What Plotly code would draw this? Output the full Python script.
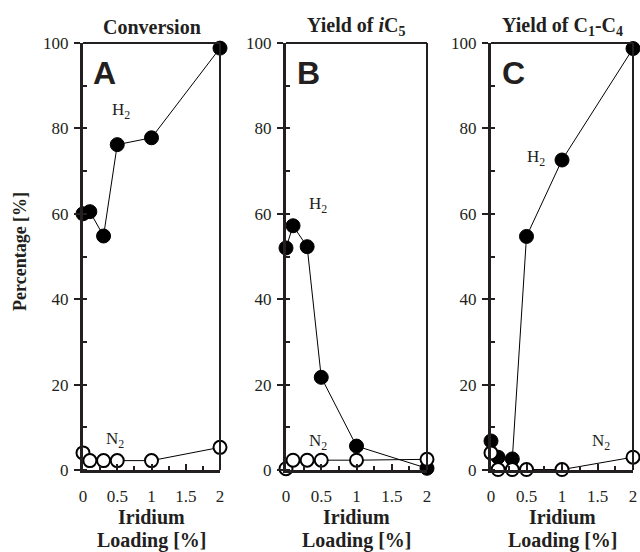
import plotly.graph_objects as go

loading = [0, 0.1, 0.3, 0.5, 1, 2]

conv_h2 = [60, 60.5, 54.8, 76.2, 77.8, 98.8]
conv_n2 = [4.0, 2.2, 2.2, 2.2, 2.2, 5.3]

ic5_h2 = [52.0, 57.2, 52.3, 21.7, 5.6, 0.4]
ic5_n2 = [0.3, 2.3, 2.3, 2.3, 2.3, 2.5]

c14_h2 = [6.8, 3.0, 2.6, 54.7, 72.6, 98.7]
c14_n2 = [4.0, 0.1, 0.1, 0.1, 0.1, 3.0]

panel_titles = ["<b>Conversion</b>", "<b>Yield of <i>i</i>C<sub>5</sub></b>", "<b>Yield of C<sub>1</sub>-C<sub>4</sub></b>"]
panel_letters = ["A", "B", "C"]
x_ticks = [0, 0.5, 1, 1.5, 2]
x_tick_text = ["0", "0.5", "1", "1.5", "2"]
y_ticks = [0, 20, 40, 60, 80, 100]

h2_label_pos = [(0.55, 84), (0.46, 62), (0.64, 73)]
n2_label_pos = [(0.47, 7), (0.45, 6.5), (1.55, 6.5)]

series = [(conv_h2, conv_n2), (ic5_h2, ic5_n2), (c14_h2, c14_n2)]

W, H = 640, 552
x_dom_px = [(83, 220), (286, 427), (491, 633)]
y_top, y_bot = 43, 470
y_domain = [(H - y_bot) / H, (H - y_top) / H]

serif = "'Liberation Serif', Tinos, 'Times New Roman', Times, serif"
ink = "#231f20"
fig = go.Figure()

for i, (h2, n2) in enumerate(series):
    xa = "x" if i == 0 else f"x{i+1}"
    ya = "y" if i == 0 else f"y{i+1}"
    fig.add_trace(go.Scatter(
        x=loading, y=h2, xaxis=xa, yaxis=ya, mode="lines+markers",
        line=dict(color="black", width=1),
        marker=dict(size=14, color="black", line=dict(color="black", width=1)),
        cliponaxis=False, showlegend=False))
    fig.add_trace(go.Scatter(
        x=loading, y=n2, xaxis=xa, yaxis=ya, mode="lines+markers",
        line=dict(color="black", width=1),
        marker=dict(size=13, color="white", line=dict(color="black", width=2)),
        cliponaxis=False, showlegend=False))

layout = dict(width=W, height=H, margin=dict(l=0, r=0, t=0, b=0, autoexpand=False),
              template="none",
              paper_bgcolor="white", plot_bgcolor="white",
              font=dict(family=serif, size=17, color=ink))

annotations = []
shapes = []
for i in range(3):
    xk = "xaxis" if i == 0 else f"xaxis{i+1}"
    yk = "yaxis" if i == 0 else f"yaxis{i+1}"
    xa = "x" if i == 0 else f"x{i+1}"
    ya = "y" if i == 0 else f"y{i+1}"
    x0, x1 = x_dom_px[i]
    layout[xk] = dict(
        domain=[x0 / W, x1 / W], anchor=ya, range=[0, 2], automargin=False,
        tickmode="array", tickvals=x_ticks, ticktext=x_tick_text,
        ticks="inside", ticklen=6, tickwidth=2, tickcolor=ink,
        ticklabelstandoff=9,
        showline=True, linewidth=3, linecolor=ink,
        showgrid=False, zeroline=False,
        tickfont=dict(family=serif, size=17, color=ink),
        minor=dict(tickmode="linear", dtick=0.25, ticks="inside", ticklen=4, tickwidth=2, tickcolor=ink),
    )
    layout[yk] = dict(
        domain=y_domain, anchor=xa, range=[0, 100], automargin=False,
        tickmode="array", tickvals=y_ticks,
        ticks="outside", ticklen=6, tickwidth=2, tickcolor=ink,
        ticklabelstandoff=2,
        showline=True, linewidth=3, linecolor=ink,
        showgrid=False, zeroline=False,
        tickfont=dict(family=serif, size=17, color=ink),
        minor=dict(tickmode="linear", dtick=10, ticks="inside", ticklen=4, tickwidth=2, tickcolor=ink),
    )
    # top and right frame lines
    shapes.append(dict(type="line", xref=f"{xa} domain", yref=f"{ya} domain", x0=0, x1=1, y0=1, y1=1,
                       line=dict(color=ink, width=2)))
    shapes.append(dict(type="line", xref=f"{xa} domain", yref=f"{ya} domain", x0=1, x1=1, y0=0, y1=1,
                       line=dict(color=ink, width=2)))
    annotations.append(dict(text=panel_titles[i], xref=f"{xa} domain", yref="paper",
                            x=0.5, y=(H - 27) / H, showarrow=False,
                            font=dict(family=serif, size=20, color=ink), yanchor="middle"))
    annotations.append(dict(text="<b>Iridium</b>", xref=f"{xa} domain", yref="paper",
                            x=0.5, y=(H - 517) / H, showarrow=False, yanchor="middle",
                            font=dict(family=serif, size=20, color=ink)))
    annotations.append(dict(text="<b>Loading [%]</b>", xref=f"{xa} domain", yref="paper",
                            x=0.5, y=(H - 540) / H, showarrow=False, yanchor="middle",
                            font=dict(family=serif, size=20, color=ink)))
    annotations.append(dict(text=f"<b>{panel_letters[i]}</b>", xref=xa, yref=ya,
                            x=0.32, y=93, showarrow=False,
                            font=dict(family="'Liberation Sans', Arimo, Arial, sans-serif", size=32, color=ink)))
    hx, hy = h2_label_pos[i]
    annotations.append(dict(text="H<sub>2</sub>", xref=xa, yref=ya, x=hx, y=hy, showarrow=False,
                            font=dict(family=serif, size=17, color=ink)))
    nx, ny = n2_label_pos[i]
    annotations.append(dict(text="N<sub>2</sub>", xref=xa, yref=ya, x=nx, y=ny, showarrow=False,
                            font=dict(family=serif, size=17, color=ink)))

annotations.append(dict(text="<b>Percentage [%]</b>", xref="paper", yref="paper",
                        x=20 / W, y=(H - 252) / H, textangle=-90, showarrow=False,
                        xanchor="center", yanchor="middle",
                        font=dict(family=serif, size=18, color=ink)))

layout["annotations"] = annotations
layout["shapes"] = shapes
fig.update_layout(**layout)
fig.write_html("out.html")
